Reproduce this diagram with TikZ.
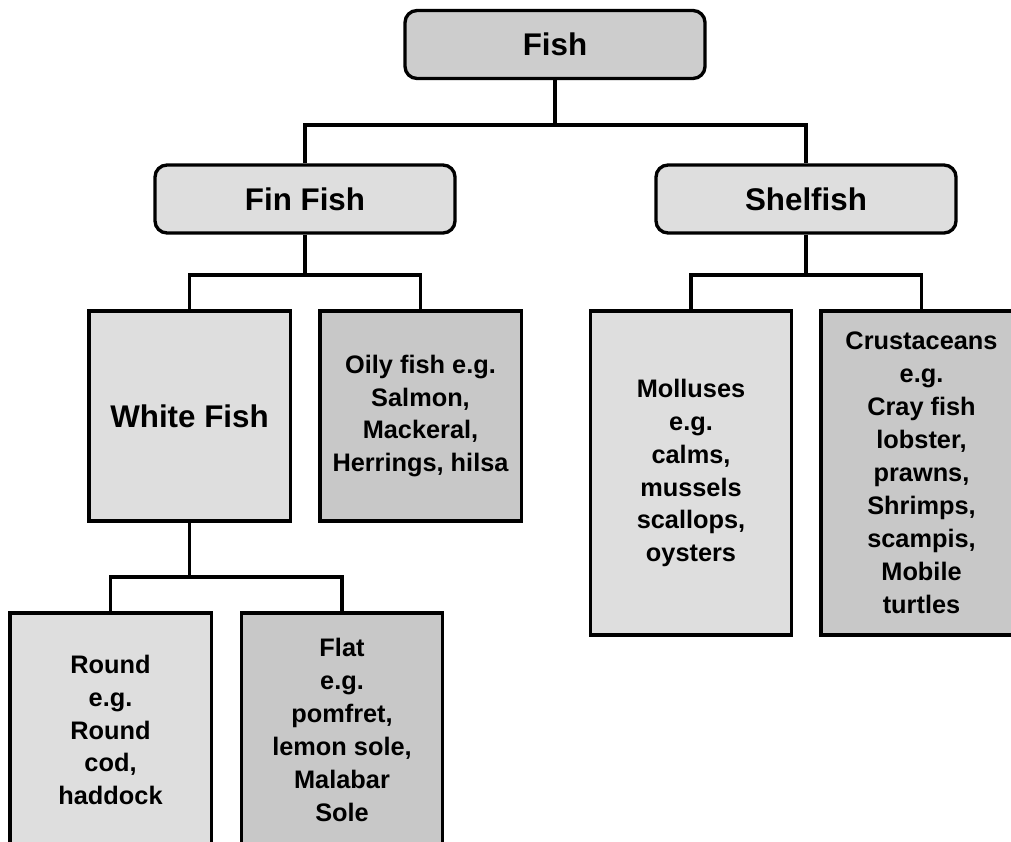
\documentclass[tikz,border=0pt]{standalone}
\usepackage{fontspec}
\setmainfont{Liberation Sans}

\definecolor{boxtop}{RGB}{205,205,205}
\definecolor{boxlight}{RGB}{222,222,222}
\definecolor{boxdark}{RGB}{200,200,200}

\tikzset{every picture/.style={line width=2.5pt}}
\tikzset{
  headbox/.style={draw, rounded corners=9pt, fill=boxlight, minimum width=225pt, minimum height=51pt, inner sep=0.75pt, font=\fontsize{23.5}{28}\selectfont\bfseries},
  listbox/.style={draw, fill=boxlight, minimum width=151pt, align=center, inner sep=0.75pt, font=\fontsize{19}{24.7}\selectfont\bfseries},
}

\begin{document}
\begin{tikzpicture}[x=0.75pt,y=0.75pt,yscale=-1,xscale=1]
%set diagram left start at 0, and has height of 842
\path [use as bounding box] (0,0) rectangle (1011,842);
\clip (0,0) rectangle (1011,842);
\fill [white] (0,0) rectangle (1011,842);

% Head Nodes
\draw (555,44.5) node [headbox, fill=boxtop] (fish) {Fish};
\draw (305,199) node [headbox] (fin) {Fin Fish};
\draw (806,199) node [headbox] (shel) {Shelfish};

% Fin fish boxes
\draw (189.5,416) node [listbox, minimum height=157.5pt, font=\fontsize{23.5}{28}\selectfont\bfseries] (white) {White Fish};
\draw (420.5,416) node [listbox, fill=boxdark, minimum height=157.5pt] (oily) {Oily fish e.g.\\Salmon,\\Mackeral,\\Herrings, hilsa};

% White fish boxes
\draw (110.5,730) node [listbox, minimum height=175.5pt] (round) {Round\\e.g.\\Round\\cod,\\haddock};
\draw (342,730) node [listbox, fill=boxdark, minimum height=175.5pt] (flat) {Flat\\e.g.\\pomfret,\\lemon sole,\\Malabar\\Sole};

% Shelfish boxes
\draw (691,473) node [listbox, minimum height=243pt] (moll) {Molluses\\e.g.\\calms,\\mussels\\scallops,\\oysters};
\draw (921.5,473) node [listbox, fill=boxdark, minimum height=243pt] (crust) {Crustaceans\\e.g.\\Cray fish\\lobster,\\prawns,\\Shrimps,\\scampis,\\Mobile\\turtles};

% Connectors
\coordinate (j0) at (555,125);
\coordinate (j1) at (305,275);
\coordinate (j2) at (806,275);
\coordinate (j3) at (196,577);

\draw (fish.south) -- (fish.south |- j0) -| (fin.north);
\draw (fish.south |- j0) -| (shel.north);
\draw (fin.south) -- (j1) -| (white.north);
\draw (j1) -| (oily.north);
\draw (shel.south) -- (j2) -| (moll.north);
\draw (j2) -| (crust.north);
\draw (white.south |- j3) -- (white.south);
\draw (white.south |- j3) -| (round.north);
\draw (white.south |- j3) -| (flat.north);

\end{tikzpicture}
\end{document}
